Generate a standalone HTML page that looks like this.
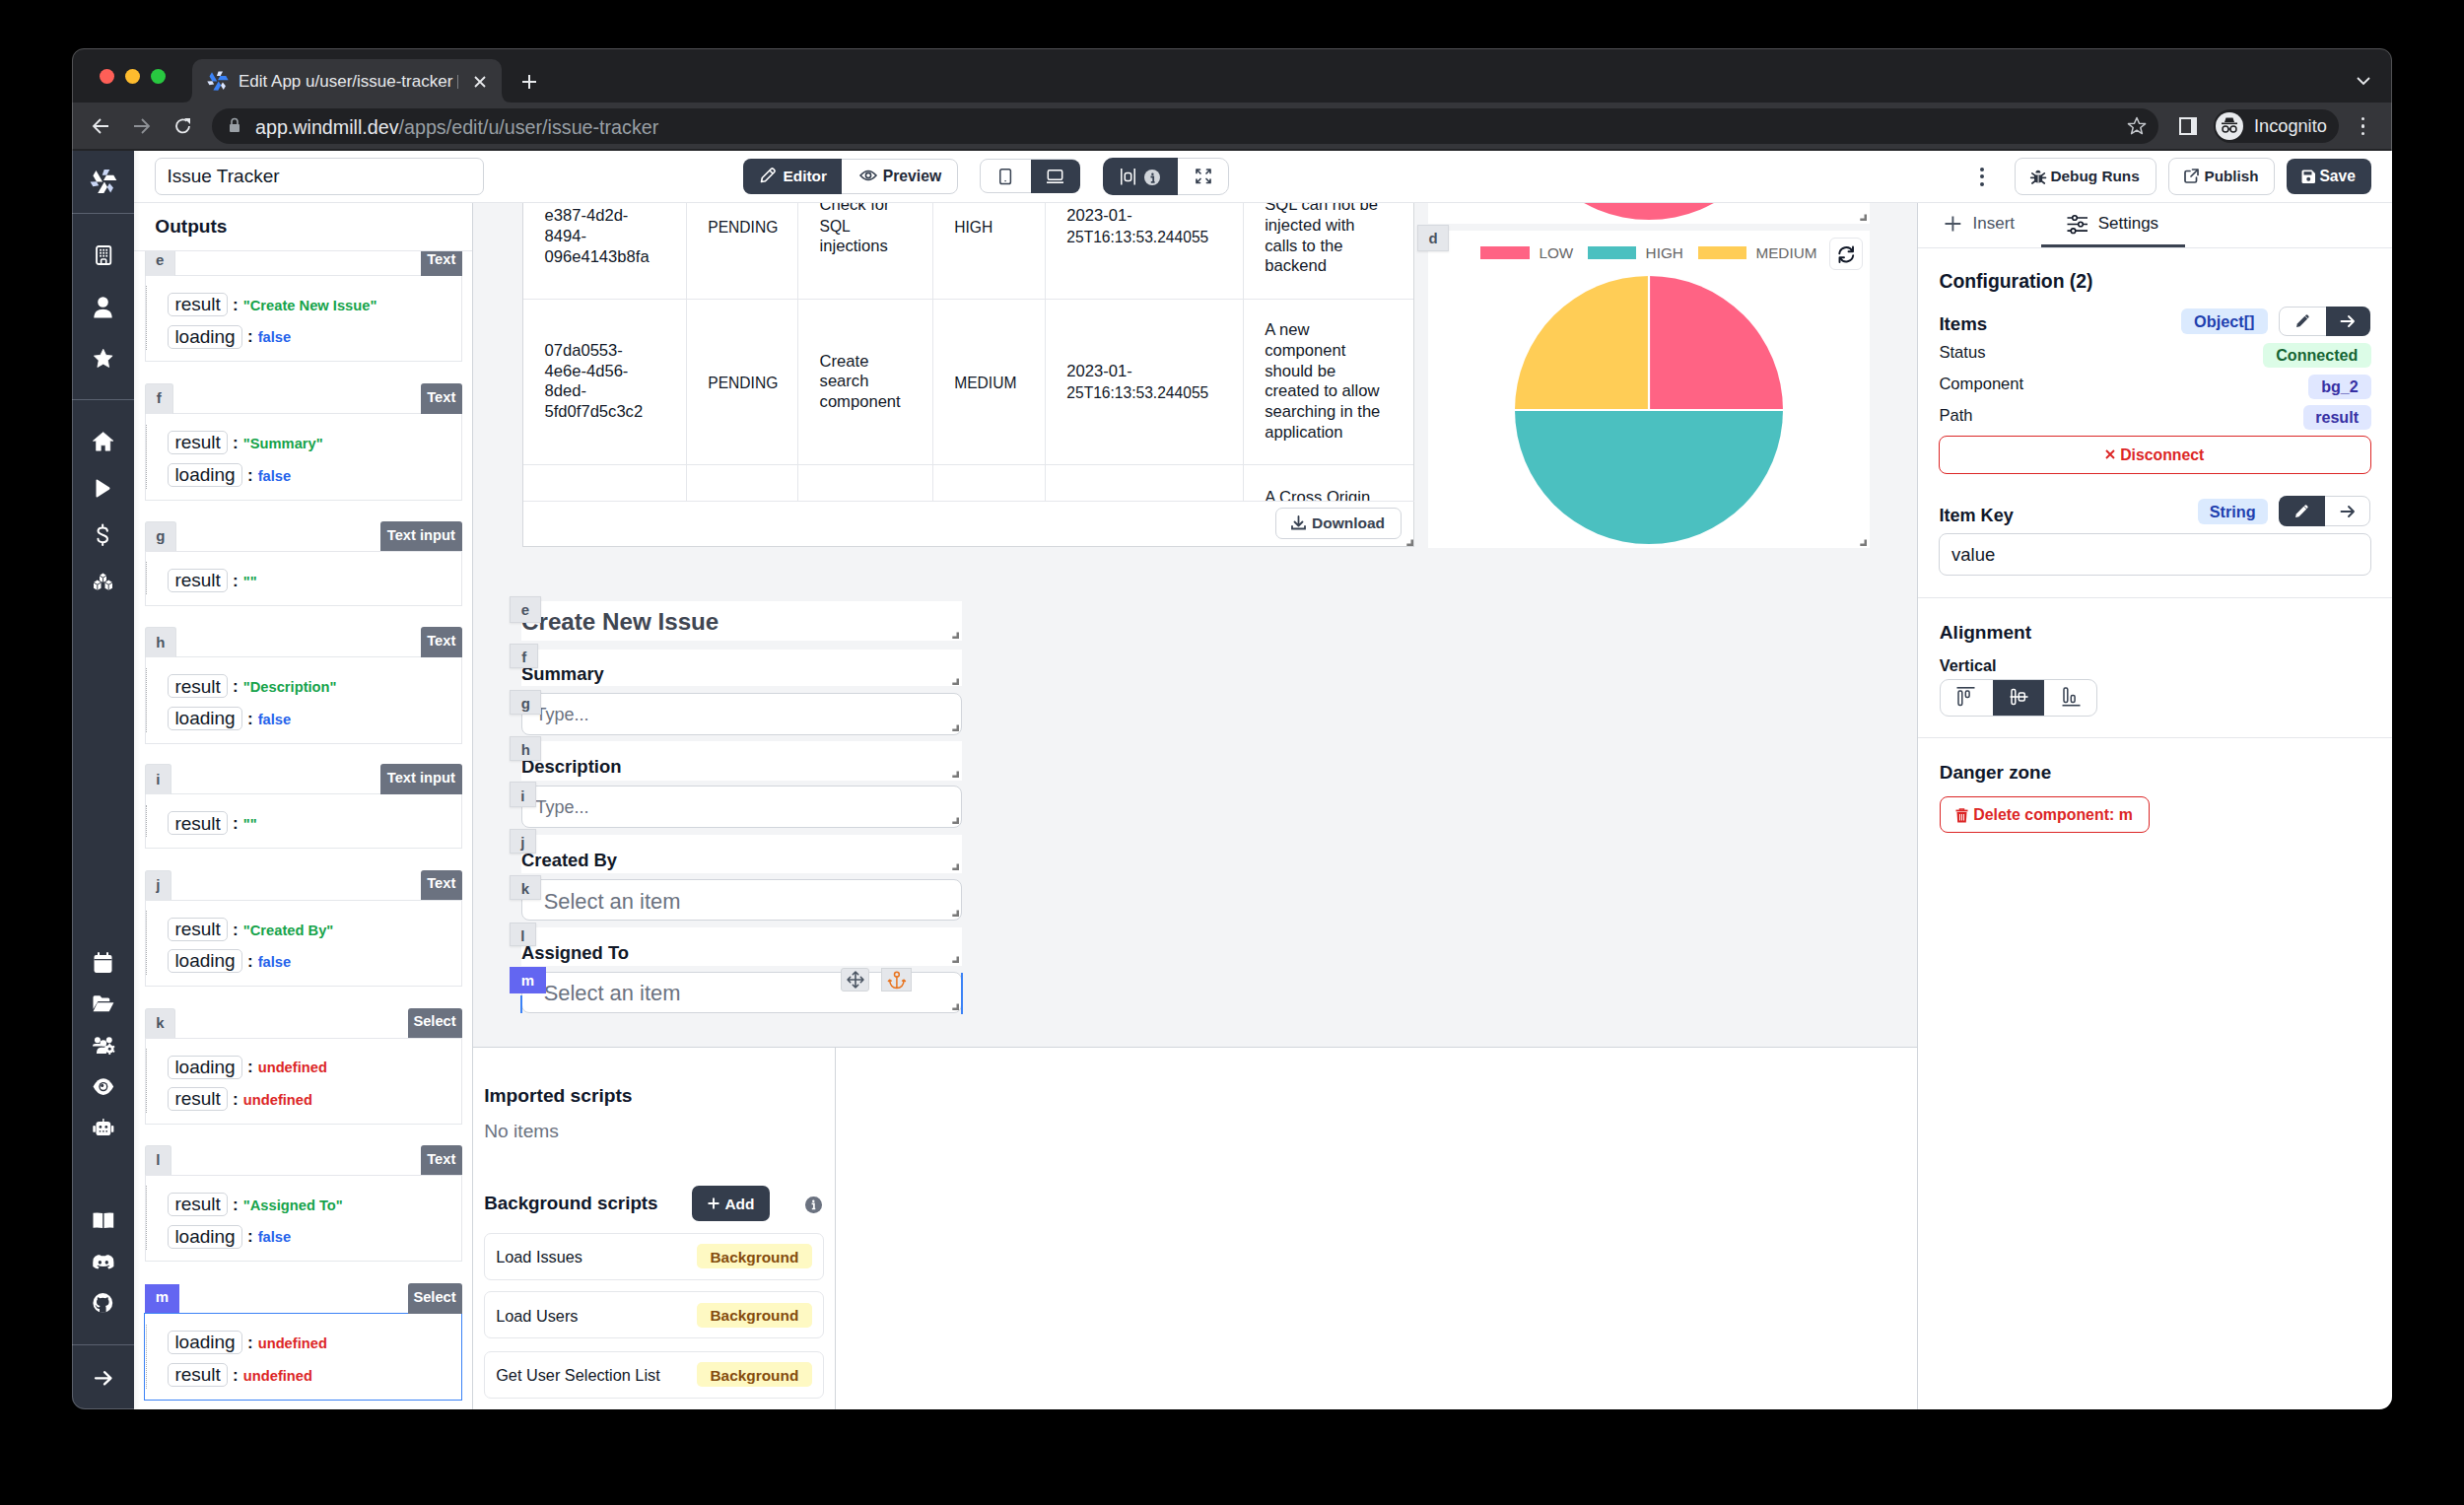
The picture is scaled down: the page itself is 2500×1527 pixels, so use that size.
<!DOCTYPE html><html><head><meta charset="utf-8"><style>
html,body{margin:0;padding:0;}
body{width:2500px;height:1527px;background:#000;position:relative;overflow:hidden;font-family:"Liberation Sans",sans-serif;}
.a{position:absolute;box-sizing:border-box;}
.t{position:absolute;white-space:nowrap;}
svg.a{overflow:visible;}
</style></head><body>
<div class="a" style="left:73.0px;top:49.0px;width:2353.7px;height:1381.0px;background:#202124;border-radius:12px 12px 13px 13px;"></div>
<div class="a" style="left:100.7px;top:69.9px;width:15.6px;height:15.6px;background:#ff5f57;border-radius:50%;"></div>
<div class="a" style="left:126.9px;top:69.9px;width:15.6px;height:15.6px;background:#febc2e;border-radius:50%;"></div>
<div class="a" style="left:152.8px;top:69.9px;width:15.6px;height:15.6px;background:#28c840;border-radius:50%;"></div>
<div class="a" style="left:195.0px;top:60.0px;width:314.0px;height:46.0px;background:#35363a;border-radius:10px 10px 0 0;"></div>
<svg class="a" style="left:185.0px;top:94.0px;" width="10" height="10" viewBox="0 0 10 10"><path d="M0 10 Q10 10 10 0 L10 10 Z" fill="#35363a"/></svg>
<svg class="a" style="left:509.0px;top:94.0px;" width="10" height="10" viewBox="0 0 10 10"><path d="M10 10 Q0 10 0 0 L0 10 Z" fill="#35363a"/></svg>
<svg class="a" style="left:208.9px;top:70.4px;" width="24.0" height="24.0" viewBox="0 0 24.0 24.0"><g transform="translate(12.0,12.0) scale(0.8)"><g transform="rotate(0)"><path d="M0,-1 L13.3,-1 L10.3,-6.3 L3.0,-6.3 Z" fill="#3b82f6"/><path d="M-1.3,-6.3 L3.3,-6.3 L6.3,-11.9 L0.7,-11.9 Z" fill="#dbe6ff"/></g><g transform="rotate(120)"><path d="M0,-1 L13.3,-1 L10.3,-6.3 L3.0,-6.3 Z" fill="#3b82f6"/><path d="M-1.3,-6.3 L3.3,-6.3 L6.3,-11.9 L0.7,-11.9 Z" fill="#dbe6ff"/></g><g transform="rotate(240)"><path d="M0,-1 L13.3,-1 L10.3,-6.3 L3.0,-6.3 Z" fill="#3b82f6"/><path d="M-1.3,-6.3 L3.3,-6.3 L6.3,-11.9 L0.7,-11.9 Z" fill="#dbe6ff"/></g></g></svg>
<div class="t " style="left:242.0px;top:73.11px;font-size:17px;line-height:18.99px;color:#e8eaed;">Edit App u/user/issue-tracker</div>
<div class="a" style="left:463.6px;top:76.3px;width:1.5px;height:14.1px;background:#7d8085;"></div>
<svg class="a" style="left:480.0px;top:76.0px;" width="14" height="14" viewBox="0 0 14 14"><path d="M2 2 L12 12 M12 2 L2 12" stroke="#e8eaed" stroke-width="1.8"/></svg>
<svg class="a" style="left:529.0px;top:75.0px;" width="16" height="16" viewBox="0 0 16 16"><path d="M8 1 V15 M1 8 H15" stroke="#e8eaed" stroke-width="2"/></svg>
<svg class="a" style="left:2391.0px;top:78.0px;" width="14" height="9" viewBox="0 0 14 9"><path d="M1 1 L7 7 L13 1" stroke="#e8eaed" stroke-width="1.8" fill="none"/></svg>
<div class="a" style="left:73.0px;top:104.0px;width:2353.7px;height:49.0px;background:#35363a;"></div>
<svg class="a" style="left:92.0px;top:119.0px;" width="20" height="18" viewBox="0 0 20 18"><path d="M18 9 H3 M10 2 L3 9 L10 16" stroke="#e8eaed" stroke-width="1.8" fill="none"/></svg>
<svg class="a" style="left:134.0px;top:119.0px;" width="20" height="18" viewBox="0 0 20 18"><path d="M2 9 H17 M10 2 L17 9 L10 16" stroke="#8e9196" stroke-width="1.8" fill="none"/></svg>
<svg class="a" style="left:176.0px;top:118.0px;" width="20" height="20" viewBox="0 0 20 20"><path d="M16 10 A6.5 6.5 0 1 1 13.5 4.8" stroke="#e8eaed" stroke-width="1.8" fill="none"/><path d="M11 2 L17 2 L17 8 Z" fill="#e8eaed"/></svg>
<div class="a" style="left:73.0px;top:150.6px;width:2353.7px;height:2.4px;background:#232427;"></div>
<div class="a" style="left:214.8px;top:110.0px;width:1975.6px;height:36.0px;background:#202124;border-radius:18px;"></div>
<svg class="a" style="left:232.0px;top:118.0px;" width="12" height="18" viewBox="0 0 12 18"><path d="M3 8 V5.5 A3 3 0 0 1 9 5.5 V8" stroke="#9aa0a6" stroke-width="1.6" fill="none"/><rect x="1" y="8" width="10" height="8" rx="1" fill="#9aa0a6"/></svg>
<div class="t" style="left:259px;top:117.67px;font-size:19.7px;line-height:22.00px;color:#9aa0a6;"><span style="color:#e8eaed">app.windmill.dev</span>/apps/edit/u/user/issue-tracker</div>
<svg class="a" style="left:2158.0px;top:118.0px;" width="20" height="20" viewBox="0 0 20 20"><path d="M10 1.5 L12.5 7.3 L18.6 7.6 L13.8 11.5 L15.4 17.6 L10 14.2 L4.6 17.6 L6.2 11.5 L1.4 7.6 L7.5 7.3 Z" stroke="#c4c7cc" stroke-width="1.5" fill="none" stroke-linejoin="round"/></svg>
<div class="a" style="left:2211.0px;top:119.0px;width:18.0px;height:18.0px;border:2px solid #e8eaed;border-right-width:6px;"></div>
<div class="a" style="left:2246.0px;top:110.7px;width:126.5px;height:34.5px;background:#202124;border-radius:17px;"></div>
<div class="a" style="left:2248.0px;top:114.0px;width:28.0px;height:28.0px;background:#e8eaed;border-radius:50%;"></div>
<svg class="a" style="left:2248.0px;top:114.0px;" width="28" height="28" viewBox="0 0 28 28"><path d="M9 10 L10.5 5.5 L17.5 5.5 L19 10 Z" fill="#202124"/><rect x="6" y="10.5" width="16" height="1.6" fill="#202124"/><circle cx="10" cy="17" r="3" stroke="#202124" stroke-width="1.5" fill="none"/><circle cx="18" cy="17" r="3" stroke="#202124" stroke-width="1.5" fill="none"/><path d="M13 17 H15" stroke="#202124" stroke-width="1.4"/></svg>
<div class="t " style="left:2287.0px;top:117.73px;font-size:18.2px;line-height:20.33px;color:#e8eaed;">Incognito</div>
<div class="a" style="left:2396.0px;top:118.8px;width:3.4px;height:3.4px;background:#e8eaed;border-radius:50%;"></div>
<div class="a" style="left:2396.0px;top:126.3px;width:3.4px;height:3.4px;background:#e8eaed;border-radius:50%;"></div>
<div class="a" style="left:2396.0px;top:133.8px;width:3.4px;height:3.4px;background:#e8eaed;border-radius:50%;"></div>
<div class="a" style="left:136.0px;top:153.0px;width:2290.7px;height:1277.0px;background:#ffffff;border-radius:0 0 13px 0;"></div>
<div class="a" style="left:73.0px;top:153.0px;width:63.0px;height:1277.0px;background:#2e3440;border-radius:0 0 0 13px;"></div>
<div class="a" style="left:73.0px;top:215.5px;width:63.0px;height:1.0px;background:#5a6170;"></div>
<div class="a" style="left:73.0px;top:404.9px;width:63.0px;height:1.0px;background:#5a6170;"></div>
<div class="a" style="left:73.0px;top:1364.3px;width:63.0px;height:1.0px;background:#5a6170;"></div>
<svg class="a" style="left:89.6px;top:169.2px;" width="30.0" height="30.0" viewBox="0 0 30.0 30.0"><g transform="translate(15.0,15.0) scale(1.0)"><g transform="rotate(0)"><path d="M0,-1 L13.3,-1 L10.3,-6.3 L3.0,-6.3 Z" fill="#ffffff"/><path d="M-1.3,-6.3 L3.3,-6.3 L6.3,-11.9 L0.7,-11.9 Z" fill="#c9d6f5"/></g><g transform="rotate(120)"><path d="M0,-1 L13.3,-1 L10.3,-6.3 L3.0,-6.3 Z" fill="#ffffff"/><path d="M-1.3,-6.3 L3.3,-6.3 L6.3,-11.9 L0.7,-11.9 Z" fill="#c9d6f5"/></g><g transform="rotate(240)"><path d="M0,-1 L13.3,-1 L10.3,-6.3 L3.0,-6.3 Z" fill="#ffffff"/><path d="M-1.3,-6.3 L3.3,-6.3 L6.3,-11.9 L0.7,-11.9 Z" fill="#c9d6f5"/></g></g></svg>
<svg class="a" style="left:96.6px;top:248.8px" width="16.3" height="20.0" viewBox="0 0 16 20" preserveAspectRatio="none"><rect x="1" y="1" width="14" height="18" rx="2" stroke="#fff" stroke-width="1.8" fill="none"/><rect x="4.1" y="3.8" width="1.8" height="1.8" fill="#fff"/><rect x="4.1" y="6.8" width="1.8" height="1.8" fill="#fff"/><rect x="4.1" y="9.8" width="1.8" height="1.8" fill="#fff"/><rect x="7.1" y="3.8" width="1.8" height="1.8" fill="#fff"/><rect x="7.1" y="6.8" width="1.8" height="1.8" fill="#fff"/><rect x="7.1" y="9.8" width="1.8" height="1.8" fill="#fff"/><rect x="10.1" y="3.8" width="1.8" height="1.8" fill="#fff"/><rect x="10.1" y="6.8" width="1.8" height="1.8" fill="#fff"/><rect x="10.1" y="9.8" width="1.8" height="1.8" fill="#fff"/><rect x="5.5" y="14" width="5" height="5" rx="1" stroke="#fff" stroke-width="1.6" fill="none"/></svg>
<svg class="a" style="left:95.0px;top:300.5px" width="19.0" height="21.8" viewBox="0 0 19 22" preserveAspectRatio="none"><circle cx="9.5" cy="5.5" r="5.3" fill="#fff"/><path d="M0.3 21.8 C0.3 15.5 4 12.8 9.5 12.8 C15 12.8 18.7 15.5 18.7 21.8 Z" fill="#fff"/></svg>
<svg class="a" style="left:94.8px;top:354.0px" width="19.5" height="19.0" viewBox="0 0 20 19" preserveAspectRatio="none"><path d="M10 0.3 L12.9 6.3 L19.6 7.1 L14.7 11.7 L16 18.5 L10 15.2 L4 18.5 L5.3 11.7 L0.4 7.1 L7.1 6.3 Z" fill="#fff" stroke="#fff" stroke-width="0.8" stroke-linejoin="round"/></svg>
<svg class="a" style="left:93.6px;top:438.4px" width="21.3" height="19.7" viewBox="0 0 21 20" preserveAspectRatio="none"><path d="M10.5 0.5 L20.7 9.5 L17.5 9.5 L17.5 19.5 L12.8 19.5 L12.8 14 L8.2 14 L8.2 19.5 L3.5 19.5 L3.5 9.5 L0.3 9.5 Z" fill="#fff" stroke="#fff" stroke-width="0.6" stroke-linejoin="round"/></svg>
<svg class="a" style="left:96.4px;top:486.3px" width="16.1" height="19.1" viewBox="0 0 16 19" preserveAspectRatio="none"><path d="M1.5 1.5 Q1.5 0 3 0.8 L15 8.5 Q16 9.5 15 10.5 L3 18.2 Q1.5 19 1.5 17.5 Z" fill="#fff"/></svg>
<svg class="a" style="left:98.4px;top:531.8px" width="12.3" height="21.6" viewBox="0 0 12 22" preserveAspectRatio="none"><path d="M10.6 7 C10.6 4.6 8.6 3.5 6 3.5 C3.4 3.5 1.5 4.8 1.5 7 C1.5 12 10.7 9.8 10.7 15 C10.7 17.3 8.5 18.5 6 18.5 C3.3 18.5 1.4 17.3 1.4 15 M6 0.5 V3.5 M6 18.5 V21.5" stroke="#fff" stroke-width="2" fill="none" stroke-linecap="round"/></svg>
<svg class="a" style="left:94.0px;top:580.3px" width="21.0" height="19.2" viewBox="0 0 21 19" preserveAspectRatio="none"><path d="M7 4 L10.5 1.5 L14 4 L14 9 L10.5 11 L7 9 Z" fill="#fff"/><path d="M1 11 L4.8 8.5 L8.5 11 L8.5 16.5 L4.8 18.5 L1 16.5 Z" fill="#fff"/><path d="M12.5 11 L16.2 8.5 L20 11 L20 16.5 L16.2 18.5 L12.5 16.5 Z" fill="#fff"/><path d="M7 4 L10.5 6 L14 4 M10.5 6 V11 M1 11 L4.8 13 L8.5 11 M4.8 13 V18.5 M12.5 11 L16.2 13 L20 11 M16.2 13 V18.5" stroke="#2e3440" stroke-width="0.9" fill="none"/></svg>
<svg class="a" style="left:95.0px;top:966.0px" width="19.0" height="21.2" viewBox="0 0 19 21" preserveAspectRatio="none"><rect x="0.5" y="3" width="18" height="17.7" rx="2" fill="#fff"/><rect x="0.5" y="7" width="18" height="1.2" fill="#2e3440"/><rect x="4" y="0" width="2" height="5" rx="1" fill="#fff"/><rect x="13" y="0" width="2" height="5" rx="1" fill="#fff"/></svg>
<svg class="a" style="left:93.6px;top:1010.2px" width="21.7" height="16.5" viewBox="0 0 22 16.5" preserveAspectRatio="none"><path d="M0.5 2 Q0.5 0.3 2 0.3 L7.5 0.3 L9.5 2.5 L16 2.5 Q17.5 2.5 17.5 4 L17.5 6 L5.5 6 L0.5 14 Z" fill="#fff"/><path d="M5 7.3 L21.7 7.3 L17 16.2 L0.5 16.2 Z" fill="#fff"/></svg>
<svg class="a" style="left:93.6px;top:1051.7px" width="21.7" height="17.3" viewBox="0 0 22 17.5" preserveAspectRatio="none"><circle cx="5" cy="3.2" r="3" fill="#fff"/><path d="M0 9.5 Q0 7 3 7 L7 7 Q8.5 7 9 8 L9 9.5 Z" fill="#fff"/><circle cx="17" cy="3.2" r="3" fill="#fff"/><circle cx="11" cy="6.5" r="3.3" fill="#fff"/><path d="M4 17.3 Q4 11 8.5 11 L13.5 11 Q14.5 11 15 11.5 L14 17.3 Z" fill="#fff"/><circle cx="17.5" cy="12.5" r="4.3" fill="#fff"/><circle cx="17.5" cy="12.5" r="1.5" fill="#2e3440"/><rect x="16.6" y="6.8" width="1.8" height="2.2" fill="#fff" transform="rotate(0 17.5 12.5)"/><rect x="16.6" y="6.8" width="1.8" height="2.2" fill="#fff" transform="rotate(60 17.5 12.5)"/><rect x="16.6" y="6.8" width="1.8" height="2.2" fill="#fff" transform="rotate(120 17.5 12.5)"/><rect x="16.6" y="6.8" width="1.8" height="2.2" fill="#fff" transform="rotate(180 17.5 12.5)"/><rect x="16.6" y="6.8" width="1.8" height="2.2" fill="#fff" transform="rotate(240 17.5 12.5)"/><rect x="16.6" y="6.8" width="1.8" height="2.2" fill="#fff" transform="rotate(300 17.5 12.5)"/></svg>
<svg class="a" style="left:93.6px;top:1093.6px" width="21.7" height="17.2" viewBox="0 0 22 17" preserveAspectRatio="none"><path d="M0.5 8.5 Q5 0.3 11 0.3 Q17 0.3 21.5 8.5 Q17 16.7 11 16.7 Q5 16.7 0.5 8.5 Z" fill="#fff"/><circle cx="11" cy="8.5" r="4.6" fill="#2e3440"/><circle cx="11" cy="8.5" r="3.2" fill="#fff"/><circle cx="9.8" cy="7.3" r="1.6" fill="#2e3440"/></svg>
<svg class="a" style="left:93.6px;top:1135.4px" width="21.7" height="17.3" viewBox="0 0 22 17.5" preserveAspectRatio="none"><rect x="10.3" y="0" width="1.4" height="3.5" fill="#fff"/><rect x="3.5" y="3" width="15" height="14.3" rx="3" fill="#fff"/><rect x="0.3" y="7" width="2.6" height="7" rx="1.2" fill="#fff"/><rect x="19.1" y="7" width="2.6" height="7" rx="1.2" fill="#fff"/><circle cx="8" cy="8.5" r="1.4" fill="#2e3440"/><circle cx="14" cy="8.5" r="1.4" fill="#2e3440"/><rect x="6.8" y="12.3" width="1.6" height="1.4" fill="#2e3440"/><rect x="10.2" y="12.3" width="1.6" height="1.4" fill="#2e3440"/><rect x="13.6" y="12.3" width="1.6" height="1.4" fill="#2e3440"/></svg>
<svg class="a" style="left:93.6px;top:1230.0px" width="21.7" height="16.0" viewBox="0 0 22 16" preserveAspectRatio="none"><path d="M0.5 0.8 Q5 0 10.3 1 L10.3 16 Q5 15 0.5 15.7 Z" fill="#fff"/><path d="M11.7 1 Q17 0 21.5 0.8 L21.5 15.7 Q17 15 11.7 16 Z" fill="#fff"/></svg>
<svg class="a" style="left:93.6px;top:1272.5px" width="21.7" height="14.6" viewBox="0 0 22 14.6" preserveAspectRatio="none"><path d="M5.5 0.3 Q8 0 8.8 1.2 L13.2 1.2 Q14 0 16.5 0.3 Q20 1.3 21.3 4 Q22 8 21.7 12 Q19 14 16.5 14.5 L15.3 12.6 Q16.8 12 17.5 11.3 L16.8 10.8 Q11 13.4 5.2 10.8 L4.5 11.3 Q5.2 12 6.7 12.6 L5.5 14.5 Q3 14 0.3 12 Q0 8 0.7 4 Q2 1.3 5.5 0.3 Z" fill="#fff"/><ellipse cx="7.5" cy="7.8" rx="1.7" ry="1.9" fill="#2e3440"/><ellipse cx="14.5" cy="7.8" rx="1.7" ry="1.9" fill="#2e3440"/></svg>
<svg class="a" style="left:94.3px;top:1311.7px" width="20.6" height="19.9" viewBox="0 0 20.6 20" preserveAspectRatio="none"><circle cx="10.3" cy="10" r="9.9" fill="#fff"/><path d="M7 19.8 L7 16 Q4.5 16.3 3.5 14 Q3 12.8 2.2 12.4 Q3.5 12.2 4.3 13.5 Q5.3 14.8 7 14.3 Q7.1 13.5 7.6 13.1 Q4 12.5 4 9 Q4 7.6 4.9 6.6 Q4.6 5.5 5 4.3 Q6.2 4.3 7.5 5.3 Q10.3 4.5 13.1 5.3 Q14.4 4.3 15.6 4.3 Q16 5.5 15.7 6.6 Q16.6 7.6 16.6 9 Q16.6 12.5 13 13.1 Q13.6 13.7 13.6 15 L13.6 19.8 Z" fill="#2e3440"/></svg>
<svg class="a" style="left:95.6px;top:1390.8px" width="18.4" height="14.6" viewBox="0 0 18.4 14.6" preserveAspectRatio="none"><path d="M1 7.3 H16.5 M10 1.2 L16.5 7.3 L10 13.4" stroke="#fff" stroke-width="2.3" fill="none" stroke-linecap="round" stroke-linejoin="round"/></svg>
<div class="a" style="left:136.0px;top:204.6px;width:2290.7px;height:1.0px;background:#e5e7eb;"></div>
<div class="a" style="left:157.3px;top:160.0px;width:333.7px;height:38.0px;border:1px solid #d1d5db;border-radius:7px;background:#fff;"></div>
<div class="t " style="left:169.5px;top:168.31px;font-size:19px;line-height:21.22px;color:#111827;">Issue Tracker</div>
<div class="a" style="left:754.4px;top:160.5px;width:217.8px;height:36.4px;border:1px solid #d1d5db;border-radius:8px;background:#fff;"></div>
<div class="a" style="left:754.4px;top:160.5px;width:99.6px;height:36.4px;background:#343d4c;border-radius:8px 0 0 8px;"></div>
<svg class="a" style="left:770.0px;top:169.0px;" width="18" height="18" viewBox="0 0 18 18"><path d="M2.5 15.5 L3.3 11.5 L12.5 2.3 Q13.5 1.5 14.5 2.3 L15.7 3.5 Q16.5 4.5 15.7 5.5 L6.5 14.7 Z M11 4 L14 7" stroke="#fff" stroke-width="1.6" fill="none" stroke-linejoin="round"/></svg>
<div class="t " style="left:794.5px;top:170.26px;font-size:15.4px;line-height:17.20px;color:#fff;font-weight:700;">Editor</div>
<svg class="a" style="left:871.5px;top:172.0px;" width="18" height="12" viewBox="0 0 18 12"><path d="M1 6 Q9 -3 17 6 Q9 15 1 6 Z" stroke="#374151" stroke-width="1.6" fill="none"/><circle cx="9" cy="6" r="2.6" stroke="#374151" stroke-width="1.6" fill="none"/></svg>
<div class="t " style="left:895.8px;top:169.99px;font-size:15.7px;line-height:17.54px;color:#1f2937;font-weight:700;">Preview</div>
<div class="a" style="left:994.2px;top:161.3px;width:101.3px;height:35.1px;border:1px solid #d1d5db;border-radius:8px;background:#fff;"></div>
<div class="a" style="left:1046.0px;top:162.2px;width:49.5px;height:33.4px;background:#343d4c;border-radius:0 8px 8px 0;"></div>
<svg class="a" style="left:1013.7px;top:170.8px;" width="12.2" height="16.4" viewBox="0 0 12.2 16.4"><rect x="0.8" y="0.8" width="10.6" height="14.8" rx="1.8" stroke="#374151" stroke-width="1.5" fill="none"/><rect x="5.4" y="12" width="1.4" height="1.2" fill="#374151"/></svg>
<svg class="a" style="left:1062.3px;top:171.9px;" width="17" height="14.2" viewBox="0 0 17 14.2"><rect x="1.3" y="0.8" width="14.4" height="9.5" rx="1.5" stroke="#fff" stroke-width="1.5" fill="none"/><rect x="0" y="12.4" width="17" height="1.6" fill="#fff"/></svg>
<div class="a" style="left:1119.3px;top:160.3px;width:127.6px;height:37.4px;border:1px solid #d1d5db;border-radius:10px;background:#fff;"></div>
<div class="a" style="left:1119.3px;top:160.3px;width:75.9px;height:37.4px;background:#343d4c;border-radius:10px 0 0 10px;"></div>
<svg class="a" style="left:1136.7px;top:170.6px;" width="15" height="16.6" viewBox="0 0 15 16.6"><path d="M0.8 0 V16.6 M14.2 0 V16.6" stroke="#fff" stroke-width="1.5"/><rect x="4.3" y="4.5" width="6.4" height="8" rx="2" stroke="#fff" stroke-width="1.5" fill="none"/></svg>
<div class="a" style="left:1160.5px;top:171.6px;width:16.8px;height:16.8px;background:#d1d5db;border-radius:50%;"></div>
<svg class="a" style="left:1160.5px;top:171.6px;" width="16.8" height="16.8" viewBox="0 0 16.8 16.8"><circle cx="8.4" cy="4.8" r="1.2" fill="#374151"/><path d="M6.5 7.5 H9.2 V12.5 M6.8 12.8 H10.6" stroke="#374151" stroke-width="1.8" fill="none"/></svg>
<svg class="a" style="left:1213.2px;top:171.4px;" width="16" height="15.5" viewBox="0 0 16 15.5"><path d="M1 1 L5 5 M1 1 H4.5 M1 1 V4.5 M15 1 L11 5 M15 1 H11.5 M15 1 V4.5 M1 14.5 L5 10.5 M1 14.5 H4.5 M1 14.5 V11 M15 14.5 L11 10.5 M15 14.5 H11.5 M15 14.5 V11" stroke="#374151" stroke-width="1.7" fill="none" stroke-linecap="round"/></svg>
<div class="a" style="left:2008.8px;top:169.9px;width:4.0px;height:4.0px;background:#374151;border-radius:50%;"></div>
<div class="a" style="left:2008.8px;top:177.2px;width:4.0px;height:4.0px;background:#374151;border-radius:50%;"></div>
<div class="a" style="left:2008.8px;top:184.5px;width:4.0px;height:4.0px;background:#374151;border-radius:50%;"></div>
<div class="a" style="left:2043.5px;top:160.0px;width:144.7px;height:37.8px;border:1px solid #d1d5db;border-radius:8px;background:#fff;"></div>
<svg class="a" style="left:2059.5px;top:171.5px;" width="16" height="15" viewBox="0 0 16 15"><path d="M5.4 3.4 A2.5 2.6 0 0 1 10.4 3.4 Z" fill="#2b3340"/><path d="M4 5.4 H12.2 V10 Q12.2 13.5 8.1 13.5 Q4 13.5 4 10 Z" fill="#2b3340"/><path d="M8.1 5.6 V13.6" stroke="#fff" stroke-width="0.9"/><path d="M1.9 3.9 L4.8 6.2 M14.3 3.9 L11.4 6.2 M0.7 8.3 H4 M15.5 8.3 H12.2 M1.9 14 L4.8 11.8 M14.3 14 L11.4 11.8" stroke="#2b3340" stroke-width="1.7" stroke-linecap="round"/></svg>
<div class="t " style="left:2080.4px;top:170.21px;font-size:15.35px;line-height:17.15px;color:#1f2937;font-weight:700;">Debug Runs</div>
<div class="a" style="left:2199.7px;top:160.0px;width:108.6px;height:37.8px;border:1px solid #d1d5db;border-radius:8px;background:#fff;"></div>
<svg class="a" style="left:2216.0px;top:171.0px;" width="15" height="15" viewBox="0 0 15 15"><path d="M6 2.5 H2.5 Q1 2.5 1 4 V12.5 Q1 14 2.5 14 H11 Q12.5 14 12.5 12.5 V9 M8.5 1 H14 V6.5 M14 1 L7 8" stroke="#374151" stroke-width="1.7" fill="none" stroke-linecap="round" stroke-linejoin="round"/></svg>
<div class="t " style="left:2236.6px;top:170.34px;font-size:15.2px;line-height:16.98px;color:#1f2937;font-weight:700;">Publish</div>
<div class="a" style="left:2320.0px;top:161.0px;width:85.5px;height:36.0px;background:#343d4c;border-radius:8px;"></div>
<svg class="a" style="left:2335.0px;top:171.5px;" width="14.5" height="14.5" viewBox="0 0 14.5 14.5"><path d="M0.5 2 Q0.5 0.5 2 0.5 L10.5 0.5 L14 4 L14 12.5 Q14 14 12.5 14 L2 14 Q0.5 14 0.5 12.5 Z" fill="#fff"/><rect x="2.5" y="2.2" width="8" height="3.3" fill="#343d4c"/><circle cx="7.25" cy="9.8" r="2" fill="#343d4c"/></svg>
<div class="t " style="left:2353.4px;top:169.98px;font-size:15.6px;line-height:17.43px;color:#fff;font-weight:700;">Save</div>
<div class="a" style="left:479.0px;top:205.6px;width:1.0px;height:1224.4px;background:#d1d5db;"></div>
<div class="t " style="left:157.3px;top:219.01px;font-size:19.1px;line-height:21.33px;color:#0f172a;font-weight:700;">Outputs</div>
<div class="a" style="left:136.0px;top:254.3px;width:343.0px;height:1.0px;background:#e5e7eb;"></div>
<div class="a" style="left:136px;top:255.3px;width:343px;height:1174.7px;overflow:hidden;">
<div class="a" style="left:10.9px;top:23.7px;width:321.7px;height:88.5px;border:1px solid #e5e7eb;background:#fff;"></div>
<div class="a" style="left:10.9px;top:-6.3px;width:30.8px;height:30.5px;background:#e5e7eb;border:1px solid #dfe2e6;border-bottom:none;border-radius:3px 3px 0 0;"></div>
<div class="t " style="left:10.9px;width:30.8px;text-align:center;top:0.92px;font-size:15px;line-height:16.75px;color:#4b5563;font-weight:700;">e</div>
<div class="a" style="left:12.0px;top:35.1px;width:1.2px;height:65.1px;border-left:1.2px dotted #a9abaf;"></div>
<div class="a" style="left:291.0px;top:-6.3px;width:41.6px;height:30.5px;background:#6b7280;border-radius:3px 3px 0 0;"></div>
<div class="t " style="left:286.0px;width:51.6px;text-align:center;top:-0.60px;font-size:14.7px;line-height:16.42px;color:#fff;font-weight:700;">Text</div>
<div class="a" style="left:34.4px;top:41.7px;width:60.4px;height:24.0px;border:1px solid #d1d5db;border-radius:5px;background:#fff;"></div>
<div class="t " style="left:41.4px;top:42.70px;font-size:19px;line-height:21.22px;color:#111827;">result</div>
<div class="t " style="left:100.1px;top:44.51px;font-size:17px;line-height:18.99px;color:#111827;font-weight:700;">:</div>
<div class="t " style="left:110.8px;top:46.60px;font-size:14.7px;line-height:16.42px;color:#16a34a;font-weight:700;">"Create New Issue"</div>
<div class="a" style="left:34.4px;top:74.3px;width:75.3px;height:24.0px;border:1px solid #d1d5db;border-radius:5px;background:#fff;"></div>
<div class="t " style="left:41.4px;top:75.31px;font-size:19px;line-height:21.22px;color:#111827;">loading</div>
<div class="t " style="left:115.0px;top:77.11px;font-size:17px;line-height:18.99px;color:#111827;font-weight:700;">:</div>
<div class="t " style="left:125.7px;top:79.20px;font-size:14.7px;line-height:16.42px;color:#2563eb;font-weight:700;">false</div>
<div class="a" style="left:10.9px;top:163.9px;width:321.7px;height:88.5px;border:1px solid #e5e7eb;background:#fff;"></div>
<div class="a" style="left:10.9px;top:133.9px;width:28.7px;height:30.5px;background:#e5e7eb;border:1px solid #dfe2e6;border-bottom:none;border-radius:3px 3px 0 0;"></div>
<div class="t " style="left:10.9px;width:28.7px;text-align:center;top:141.12px;font-size:15px;line-height:16.75px;color:#4b5563;font-weight:700;">f</div>
<div class="a" style="left:12.0px;top:175.3px;width:1.2px;height:65.1px;border-left:1.2px dotted #a9abaf;"></div>
<div class="a" style="left:291.0px;top:133.9px;width:41.6px;height:30.5px;background:#6b7280;border-radius:3px 3px 0 0;"></div>
<div class="t " style="left:286.0px;width:51.6px;text-align:center;top:139.60px;font-size:14.7px;line-height:16.42px;color:#fff;font-weight:700;">Text</div>
<div class="a" style="left:34.4px;top:181.9px;width:60.4px;height:24.0px;border:1px solid #d1d5db;border-radius:5px;background:#fff;"></div>
<div class="t " style="left:41.4px;top:182.90px;font-size:19px;line-height:21.22px;color:#111827;">result</div>
<div class="t " style="left:100.1px;top:184.71px;font-size:17px;line-height:18.99px;color:#111827;font-weight:700;">:</div>
<div class="t " style="left:110.8px;top:186.80px;font-size:14.7px;line-height:16.42px;color:#16a34a;font-weight:700;">"Summary"</div>
<div class="a" style="left:34.4px;top:214.5px;width:75.3px;height:24.0px;border:1px solid #d1d5db;border-radius:5px;background:#fff;"></div>
<div class="t " style="left:41.4px;top:215.50px;font-size:19px;line-height:21.22px;color:#111827;">loading</div>
<div class="t " style="left:115.0px;top:217.31px;font-size:17px;line-height:18.99px;color:#111827;font-weight:700;">:</div>
<div class="t " style="left:125.7px;top:219.40px;font-size:14.7px;line-height:16.42px;color:#2563eb;font-weight:700;">false</div>
<div class="a" style="left:10.9px;top:303.7px;width:321.7px;height:56.0px;border:1px solid #e5e7eb;background:#fff;"></div>
<div class="a" style="left:10.9px;top:273.7px;width:31.9px;height:30.5px;background:#e5e7eb;border:1px solid #dfe2e6;border-bottom:none;border-radius:3px 3px 0 0;"></div>
<div class="t " style="left:10.9px;width:31.9px;text-align:center;top:280.92px;font-size:15px;line-height:16.75px;color:#4b5563;font-weight:700;">g</div>
<div class="a" style="left:12.0px;top:315.1px;width:1.2px;height:32.6px;border-left:1.2px dotted #a9abaf;"></div>
<div class="a" style="left:250.1px;top:273.7px;width:82.5px;height:30.5px;background:#6b7280;border-radius:3px 3px 0 0;"></div>
<div class="t " style="left:245.1px;width:92.5px;text-align:center;top:279.40px;font-size:14.7px;line-height:16.42px;color:#fff;font-weight:700;">Text input</div>
<div class="a" style="left:34.4px;top:321.7px;width:60.4px;height:24.0px;border:1px solid #d1d5db;border-radius:5px;background:#fff;"></div>
<div class="t " style="left:41.4px;top:322.71px;font-size:19px;line-height:21.22px;color:#111827;">result</div>
<div class="t " style="left:100.1px;top:324.52px;font-size:17px;line-height:18.99px;color:#111827;font-weight:700;">:</div>
<div class="t " style="left:110.8px;top:326.60px;font-size:14.7px;line-height:16.42px;color:#16a34a;font-weight:700;">""</div>
<div class="a" style="left:10.9px;top:411.2px;width:321.7px;height:88.5px;border:1px solid #e5e7eb;background:#fff;"></div>
<div class="a" style="left:10.9px;top:381.2px;width:31.9px;height:30.5px;background:#e5e7eb;border:1px solid #dfe2e6;border-bottom:none;border-radius:3px 3px 0 0;"></div>
<div class="t " style="left:10.9px;width:31.9px;text-align:center;top:388.42px;font-size:15px;line-height:16.75px;color:#4b5563;font-weight:700;">h</div>
<div class="a" style="left:12.0px;top:422.6px;width:1.2px;height:65.1px;border-left:1.2px dotted #a9abaf;"></div>
<div class="a" style="left:291.0px;top:381.2px;width:41.6px;height:30.5px;background:#6b7280;border-radius:3px 3px 0 0;"></div>
<div class="t " style="left:286.0px;width:51.6px;text-align:center;top:386.90px;font-size:14.7px;line-height:16.42px;color:#fff;font-weight:700;">Text</div>
<div class="a" style="left:34.4px;top:429.2px;width:60.4px;height:24.0px;border:1px solid #d1d5db;border-radius:5px;background:#fff;"></div>
<div class="t " style="left:41.4px;top:430.21px;font-size:19px;line-height:21.22px;color:#111827;">result</div>
<div class="t " style="left:100.1px;top:432.02px;font-size:17px;line-height:18.99px;color:#111827;font-weight:700;">:</div>
<div class="t " style="left:110.8px;top:434.10px;font-size:14.7px;line-height:16.42px;color:#16a34a;font-weight:700;">"Description"</div>
<div class="a" style="left:34.4px;top:461.8px;width:75.3px;height:24.0px;border:1px solid #d1d5db;border-radius:5px;background:#fff;"></div>
<div class="t " style="left:41.4px;top:462.81px;font-size:19px;line-height:21.22px;color:#111827;">loading</div>
<div class="t " style="left:115.0px;top:464.62px;font-size:17px;line-height:18.99px;color:#111827;font-weight:700;">:</div>
<div class="t " style="left:125.7px;top:466.70px;font-size:14.7px;line-height:16.42px;color:#2563eb;font-weight:700;">false</div>
<div class="a" style="left:10.9px;top:550.2px;width:321.7px;height:56.0px;border:1px solid #e5e7eb;background:#fff;"></div>
<div class="a" style="left:10.9px;top:520.2px;width:26.9px;height:30.5px;background:#e5e7eb;border:1px solid #dfe2e6;border-bottom:none;border-radius:3px 3px 0 0;"></div>
<div class="t " style="left:10.9px;width:26.9px;text-align:center;top:527.42px;font-size:15px;line-height:16.75px;color:#4b5563;font-weight:700;">i</div>
<div class="a" style="left:12.0px;top:561.6px;width:1.2px;height:32.6px;border-left:1.2px dotted #a9abaf;"></div>
<div class="a" style="left:250.1px;top:520.2px;width:82.5px;height:30.5px;background:#6b7280;border-radius:3px 3px 0 0;"></div>
<div class="t " style="left:245.1px;width:92.5px;text-align:center;top:525.90px;font-size:14.7px;line-height:16.42px;color:#fff;font-weight:700;">Text input</div>
<div class="a" style="left:34.4px;top:568.2px;width:60.4px;height:24.0px;border:1px solid #d1d5db;border-radius:5px;background:#fff;"></div>
<div class="t " style="left:41.4px;top:569.21px;font-size:19px;line-height:21.22px;color:#111827;">result</div>
<div class="t " style="left:100.1px;top:571.02px;font-size:17px;line-height:18.99px;color:#111827;font-weight:700;">:</div>
<div class="t " style="left:110.8px;top:573.10px;font-size:14.7px;line-height:16.42px;color:#16a34a;font-weight:700;">""</div>
<div class="a" style="left:10.9px;top:657.4px;width:321.7px;height:88.5px;border:1px solid #e5e7eb;background:#fff;"></div>
<div class="a" style="left:10.9px;top:627.4px;width:26.8px;height:30.5px;background:#e5e7eb;border:1px solid #dfe2e6;border-bottom:none;border-radius:3px 3px 0 0;"></div>
<div class="t " style="left:10.9px;width:26.8px;text-align:center;top:634.62px;font-size:15px;line-height:16.75px;color:#4b5563;font-weight:700;">j</div>
<div class="a" style="left:12.0px;top:668.8px;width:1.2px;height:65.1px;border-left:1.2px dotted #a9abaf;"></div>
<div class="a" style="left:291.0px;top:627.4px;width:41.6px;height:30.5px;background:#6b7280;border-radius:3px 3px 0 0;"></div>
<div class="t " style="left:286.0px;width:51.6px;text-align:center;top:633.10px;font-size:14.7px;line-height:16.42px;color:#fff;font-weight:700;">Text</div>
<div class="a" style="left:34.4px;top:675.4px;width:60.4px;height:24.0px;border:1px solid #d1d5db;border-radius:5px;background:#fff;"></div>
<div class="t " style="left:41.4px;top:676.41px;font-size:19px;line-height:21.22px;color:#111827;">result</div>
<div class="t " style="left:100.1px;top:678.22px;font-size:17px;line-height:18.99px;color:#111827;font-weight:700;">:</div>
<div class="t " style="left:110.8px;top:680.30px;font-size:14.7px;line-height:16.42px;color:#16a34a;font-weight:700;">"Created By"</div>
<div class="a" style="left:34.4px;top:708.0px;width:75.3px;height:24.0px;border:1px solid #d1d5db;border-radius:5px;background:#fff;"></div>
<div class="t " style="left:41.4px;top:709.00px;font-size:19px;line-height:21.22px;color:#111827;">loading</div>
<div class="t " style="left:115.0px;top:710.82px;font-size:17px;line-height:18.99px;color:#111827;font-weight:700;">:</div>
<div class="t " style="left:125.7px;top:712.90px;font-size:14.7px;line-height:16.42px;color:#2563eb;font-weight:700;">false</div>
<div class="a" style="left:10.9px;top:797.3px;width:321.7px;height:88.5px;border:1px solid #e5e7eb;background:#fff;"></div>
<div class="a" style="left:10.9px;top:767.3px;width:31.3px;height:30.5px;background:#e5e7eb;border:1px solid #dfe2e6;border-bottom:none;border-radius:3px 3px 0 0;"></div>
<div class="t " style="left:10.9px;width:31.3px;text-align:center;top:774.53px;font-size:15px;line-height:16.75px;color:#4b5563;font-weight:700;">k</div>
<div class="a" style="left:12.0px;top:808.7px;width:1.2px;height:65.1px;border-left:1.2px dotted #a9abaf;"></div>
<div class="a" style="left:277.5px;top:767.3px;width:55.1px;height:30.5px;background:#6b7280;border-radius:3px 3px 0 0;"></div>
<div class="t " style="left:272.5px;width:65.1px;text-align:center;top:773.00px;font-size:14.7px;line-height:16.42px;color:#fff;font-weight:700;">Select</div>
<div class="a" style="left:34.4px;top:815.3px;width:75.3px;height:24.0px;border:1px solid #d1d5db;border-radius:5px;background:#fff;"></div>
<div class="t " style="left:41.4px;top:816.30px;font-size:19px;line-height:21.22px;color:#111827;">loading</div>
<div class="t " style="left:115.0px;top:818.12px;font-size:17px;line-height:18.99px;color:#111827;font-weight:700;">:</div>
<div class="t " style="left:125.7px;top:820.20px;font-size:14.7px;line-height:16.42px;color:#dc2626;font-weight:700;">undefined</div>
<div class="a" style="left:34.4px;top:847.9px;width:60.4px;height:24.0px;border:1px solid #d1d5db;border-radius:5px;background:#fff;"></div>
<div class="t " style="left:41.4px;top:848.90px;font-size:19px;line-height:21.22px;color:#111827;">result</div>
<div class="t " style="left:100.1px;top:850.71px;font-size:17px;line-height:18.99px;color:#111827;font-weight:700;">:</div>
<div class="t " style="left:110.8px;top:852.80px;font-size:14.7px;line-height:16.42px;color:#dc2626;font-weight:700;">undefined</div>
<div class="a" style="left:10.9px;top:936.7px;width:321.7px;height:88.5px;border:1px solid #e5e7eb;background:#fff;"></div>
<div class="a" style="left:10.9px;top:906.7px;width:26.8px;height:30.5px;background:#e5e7eb;border:1px solid #dfe2e6;border-bottom:none;border-radius:3px 3px 0 0;"></div>
<div class="t " style="left:10.9px;width:26.8px;text-align:center;top:913.92px;font-size:15px;line-height:16.75px;color:#4b5563;font-weight:700;">l</div>
<div class="a" style="left:12.0px;top:948.1px;width:1.2px;height:65.1px;border-left:1.2px dotted #a9abaf;"></div>
<div class="a" style="left:291.0px;top:906.7px;width:41.6px;height:30.5px;background:#6b7280;border-radius:3px 3px 0 0;"></div>
<div class="t " style="left:286.0px;width:51.6px;text-align:center;top:912.40px;font-size:14.7px;line-height:16.42px;color:#fff;font-weight:700;">Text</div>
<div class="a" style="left:34.4px;top:954.7px;width:60.4px;height:24.0px;border:1px solid #d1d5db;border-radius:5px;background:#fff;"></div>
<div class="t " style="left:41.4px;top:955.71px;font-size:19px;line-height:21.22px;color:#111827;">result</div>
<div class="t " style="left:100.1px;top:957.52px;font-size:17px;line-height:18.99px;color:#111827;font-weight:700;">:</div>
<div class="t " style="left:110.8px;top:959.60px;font-size:14.7px;line-height:16.42px;color:#16a34a;font-weight:700;">"Assigned To"</div>
<div class="a" style="left:34.4px;top:987.3px;width:75.3px;height:24.0px;border:1px solid #d1d5db;border-radius:5px;background:#fff;"></div>
<div class="t " style="left:41.4px;top:988.30px;font-size:19px;line-height:21.22px;color:#111827;">loading</div>
<div class="t " style="left:115.0px;top:990.12px;font-size:17px;line-height:18.99px;color:#111827;font-weight:700;">:</div>
<div class="t " style="left:125.7px;top:992.20px;font-size:14.7px;line-height:16.42px;color:#2563eb;font-weight:700;">false</div>
<div class="a" style="left:10.4px;top:1076.9px;width:322.2px;height:88.5px;border:1.8px solid #3b82f6;background:#fff;"></div>
<div class="a" style="left:10.9px;top:1047.9px;width:35.2px;height:29.0px;background:#6366f1;"></div>
<div class="t " style="left:10.9px;width:35.2px;text-align:center;top:1052.83px;font-size:15px;line-height:16.75px;color:#fff;font-weight:700;">m</div>
<div class="a" style="left:12.0px;top:1088.3px;width:1.2px;height:65.1px;border-left:1.2px dotted #a9abaf;"></div>
<div class="a" style="left:277.5px;top:1046.9px;width:55.1px;height:30.5px;background:#6b7280;border-radius:3px 3px 0 0;"></div>
<div class="t " style="left:272.5px;width:65.1px;text-align:center;top:1052.60px;font-size:14.7px;line-height:16.42px;color:#fff;font-weight:700;">Select</div>
<div class="a" style="left:34.4px;top:1094.9px;width:75.3px;height:24.0px;border:1px solid #d1d5db;border-radius:5px;background:#fff;"></div>
<div class="t " style="left:41.4px;top:1095.91px;font-size:19px;line-height:21.22px;color:#111827;">loading</div>
<div class="t " style="left:115.0px;top:1097.72px;font-size:17px;line-height:18.99px;color:#111827;font-weight:700;">:</div>
<div class="t " style="left:125.7px;top:1099.80px;font-size:14.7px;line-height:16.42px;color:#dc2626;font-weight:700;">undefined</div>
<div class="a" style="left:34.4px;top:1127.5px;width:60.4px;height:24.0px;border:1px solid #d1d5db;border-radius:5px;background:#fff;"></div>
<div class="t " style="left:41.4px;top:1128.51px;font-size:19px;line-height:21.22px;color:#111827;">result</div>
<div class="t " style="left:100.1px;top:1130.32px;font-size:17px;line-height:18.99px;color:#111827;font-weight:700;">:</div>
<div class="t " style="left:110.8px;top:1132.40px;font-size:14.7px;line-height:16.42px;color:#dc2626;font-weight:700;">undefined</div>
</div>
<div class="a" style="left:480.0px;top:205.6px;width:1465.0px;height:856.4px;background:#f3f4f6;"></div>
<div class="a" style="left:480.0px;top:1061.8px;width:1465.0px;height:1.0px;background:#d1d5db;"></div>
<div class="a" style="left:530.3px;top:205.6px;width:904.6px;height:349.0px;background:#fff;border:1px solid #d5d8dc;border-top:none;"></div>
<div class="a" style="left:531px;top:205.6px;width:903px;height:302.9px;overflow:hidden;">
<div class="a" style="left:164.5px;top:0.0px;width:1.0px;height:302.9px;background:#e5e7eb;"></div>
<div class="a" style="left:277.7px;top:0.0px;width:1.0px;height:302.9px;background:#e5e7eb;"></div>
<div class="a" style="left:414.5px;top:0.0px;width:1.0px;height:302.9px;background:#e5e7eb;"></div>
<div class="a" style="left:529.3px;top:0.0px;width:1.0px;height:302.9px;background:#e5e7eb;"></div>
<div class="a" style="left:729.7px;top:0.0px;width:1.0px;height:302.9px;background:#e5e7eb;"></div>
<div class="a" style="left:0.0px;top:97.2px;width:903.0px;height:1.0px;background:#e5e7eb;"></div>
<div class="a" style="left:0.0px;top:265.4px;width:903.0px;height:1.0px;background:#e5e7eb;"></div>
<div class="t " style="left:21.5px;top:4.58px;font-size:16.6px;line-height:18.54px;color:#111827;">e387-4d2d-</div>
<div class="t " style="left:21.5px;top:25.28px;font-size:16.6px;line-height:18.54px;color:#111827;">8494-</div>
<div class="t " style="left:21.5px;top:45.98px;font-size:16.6px;line-height:18.54px;color:#111827;">096e4143b8fa</div>
<div class="t " style="left:21.5px;top:141.28px;font-size:16.6px;line-height:18.54px;color:#111827;">07da0553-</div>
<div class="t " style="left:21.5px;top:161.98px;font-size:16.6px;line-height:18.54px;color:#111827;">4e6e-4d56-</div>
<div class="t " style="left:21.5px;top:182.68px;font-size:16.6px;line-height:18.54px;color:#111827;">8ded-</div>
<div class="t " style="left:21.5px;top:203.38px;font-size:16.6px;line-height:18.54px;color:#111827;">5fd0f7d5c3c2</div>
<div class="t " style="left:187.3px;top:16.88px;font-size:15.6px;line-height:17.43px;color:#111827;">PENDING</div>
<div class="t " style="left:187.3px;top:173.98px;font-size:15.6px;line-height:17.43px;color:#111827;">PENDING</div>
<div class="t " style="left:300.6px;top:-6.42px;font-size:16.6px;line-height:18.54px;color:#111827;">Check for</div>
<div class="t " style="left:300.6px;top:15.18px;font-size:15.6px;line-height:17.43px;color:#111827;">SQL</div>
<div class="t " style="left:300.6px;top:34.98px;font-size:16.6px;line-height:18.54px;color:#111827;">injections</div>
<div class="t " style="left:300.6px;top:152.08px;font-size:16.6px;line-height:18.54px;color:#111827;">Create</div>
<div class="t " style="left:300.6px;top:172.78px;font-size:16.6px;line-height:18.54px;color:#111827;">search</div>
<div class="t " style="left:300.6px;top:193.48px;font-size:16.6px;line-height:18.54px;color:#111827;">component</div>
<div class="t " style="left:437.2px;top:16.88px;font-size:15.6px;line-height:17.43px;color:#111827;">HIGH</div>
<div class="t " style="left:437.2px;top:173.98px;font-size:15.6px;line-height:17.43px;color:#111827;">MEDIUM</div>
<div class="t " style="left:551.3px;top:4.58px;font-size:16.6px;line-height:18.54px;color:#111827;">2023-01-</div>
<div class="t " style="left:551.3px;top:26.18px;font-size:15.6px;line-height:17.43px;color:#111827;">25T16:13:53.244055</div>
<div class="t " style="left:551.3px;top:162.38px;font-size:16.6px;line-height:18.54px;color:#111827;">2023-01-</div>
<div class="t " style="left:551.3px;top:183.98px;font-size:15.6px;line-height:17.43px;color:#111827;">25T16:13:53.244055</div>
<div class="t " style="left:752.2px;top:-6.42px;font-size:16.6px;line-height:18.54px;color:#111827;">SQL can not be</div>
<div class="t " style="left:752.2px;top:14.28px;font-size:16.6px;line-height:18.54px;color:#111827;">injected with</div>
<div class="t " style="left:752.2px;top:34.98px;font-size:16.6px;line-height:18.54px;color:#111827;">calls to the</div>
<div class="t " style="left:752.2px;top:55.68px;font-size:16.6px;line-height:18.54px;color:#111827;">backend</div>
<div class="t " style="left:752.2px;top:120.58px;font-size:16.6px;line-height:18.54px;color:#111827;">A new</div>
<div class="t " style="left:752.2px;top:141.28px;font-size:16.6px;line-height:18.54px;color:#111827;">component</div>
<div class="t " style="left:752.2px;top:161.98px;font-size:16.6px;line-height:18.54px;color:#111827;">should be</div>
<div class="t " style="left:752.2px;top:182.68px;font-size:16.6px;line-height:18.54px;color:#111827;">created to allow</div>
<div class="t " style="left:752.2px;top:203.38px;font-size:16.6px;line-height:18.54px;color:#111827;">searching in the</div>
<div class="t " style="left:752.2px;top:224.08px;font-size:16.6px;line-height:18.54px;color:#111827;">application</div>
<div class="t " style="left:752.2px;top:290.58px;font-size:16.6px;line-height:18.54px;color:#111827;">A Cross Origin</div>
</div>
<div class="a" style="left:531.0px;top:508.0px;width:903.5px;height:1.0px;background:#e5e7eb;"></div>
<div class="a" style="left:1293.5px;top:515.2px;width:128.5px;height:31.6px;border:1px solid #d1d5db;border-radius:7px;background:#fff;"></div>
<svg class="a" style="left:1310.0px;top:523.0px;" width="15" height="15" viewBox="0 0 15 15"><path d="M7.5 1 V10 M3.5 6.5 L7.5 10.5 L11.5 6.5" stroke="#374151" stroke-width="1.8" fill="none" stroke-linecap="round" stroke-linejoin="round"/><path d="M1 11 V13.5 H14 V11" stroke="#374151" stroke-width="1.8" fill="none" stroke-linecap="round"/></svg>
<div class="t " style="left:1331.0px;top:521.97px;font-size:15.5px;line-height:17.31px;color:#374151;font-weight:700;">Download</div>
<svg class="a" style="left:1426.8px;top:546.6px;" width="7" height="7" viewBox="0 0 7 7"><path d="M5.75 0.5 V5.75 H0.3" stroke="#7a7a7a" stroke-width="2.5" fill="none"/></svg>
<div class="a" style="left:1449px;top:205.6px;width:447.5px;height:21px;background:#fff;overflow:hidden;"><div class="a" style="left:87.79999999999995px;top:-255.0px;width:272px;height:272px;border-radius:50%;background:#ff6384;"></div></div>
<svg class="a" style="left:1887.0px;top:217.0px;" width="7" height="7" viewBox="0 0 7 7"><path d="M5.75 0.5 V5.75 H0.3" stroke="#7a7a7a" stroke-width="2.5" fill="none"/></svg>
<div class="a" style="left:1449.0px;top:234.4px;width:447.5px;height:321.4px;background:#fff;"></div>
<div class="a" style="left:1438.4px;top:228.3px;width:31.6px;height:27.0px;background:#e5e7eb;border:1px solid #d6d9de;box-shadow:0 1px 2px rgba(0,0,0,0.08);"></div>
<div class="t " style="left:1439.2px;width:30px;text-align:center;top:233.93px;font-size:15px;line-height:16.75px;color:#4b5563;font-weight:700;">d</div>
<div class="a" style="left:1502.4px;top:250.4px;width:49.6px;height:12.8px;background:#ff6384;"></div>
<div class="t " style="left:1561.4px;top:248.15px;font-size:15.3px;line-height:17.09px;color:#666666;">LOW</div>
<div class="a" style="left:1611.0px;top:250.4px;width:49.2px;height:12.8px;background:#4bc0c0;"></div>
<div class="t " style="left:1669.6px;top:248.15px;font-size:15.3px;line-height:17.09px;color:#666666;">HIGH</div>
<div class="a" style="left:1723.0px;top:250.4px;width:49.0px;height:12.8px;background:#ffcd56;"></div>
<div class="t " style="left:1781.4px;top:248.15px;font-size:15.3px;line-height:17.09px;color:#666666;">MEDIUM</div>
<div class="a" style="left:1856.4px;top:241.3px;width:33.2px;height:33.0px;border:1px solid #e5e7eb;border-radius:6px;background:#fff;"></div>
<svg class="a" style="left:1864.0px;top:249.3px;" width="18.5" height="18.5" viewBox="0 0 18.5 18.5"><path d="M2.3 8.3 A7 7 0 0 1 15.3 5.6 M16.2 10.2 A7 7 0 0 1 3.2 12.9" stroke="#111827" stroke-width="1.9" fill="none" stroke-linecap="round"/><path d="M16 1.5 V6.2 H11.5 M2.5 17 V12.3 H7" stroke="#111827" stroke-width="1.9" fill="none" stroke-linecap="round" stroke-linejoin="round"/></svg>
<svg class="a" style="left:1534.8px;top:277.9px;" width="276" height="276" viewBox="0 0 276 276"><g transform="translate(138,138)"><path d="M0 0 L0 -136 A136 136 0 0 1 136 0 Z" fill="#ff6384"/><path d="M0 0 L136 0 A136 136 0 0 1 -136 0 Z" fill="#4bc0c0"/><path d="M0 0 L-136 0 A136 136 0 0 1 0 -136 Z" fill="#ffcd56"/><path d="M0 -136 V0 M-136 0 H136" stroke="#fff" stroke-width="2.2"/></g></svg>
<svg class="a" style="left:1887.0px;top:546.6px;" width="7" height="7" viewBox="0 0 7 7"><path d="M5.75 0.5 V5.75 H0.3" stroke="#7a7a7a" stroke-width="2.5" fill="none"/></svg>
<div class="a" style="left:529.0px;top:610.3px;width:446.9px;height:39.6px;background:#fff;"></div>
<div class="t " style="left:529.0px;top:616.80px;font-size:24.2px;line-height:27.03px;color:#3f4652;font-weight:700;">Create New Issue</div>
<svg class="a" style="left:966.4px;top:640.9px;" width="7" height="7" viewBox="0 0 7 7"><path d="M5.75 0.5 V5.75 H0.3" stroke="#7a7a7a" stroke-width="2.5" fill="none"/></svg>
<div class="a" style="left:529.0px;top:658.6px;width:446.9px;height:37.9px;background:#fff;"></div>
<div class="t " style="left:529.0px;top:674.35px;font-size:18.4px;line-height:20.55px;color:#111827;font-weight:700;">Summary</div>
<svg class="a" style="left:966.4px;top:687.5px;" width="7" height="7" viewBox="0 0 7 7"><path d="M5.75 0.5 V5.75 H0.3" stroke="#7a7a7a" stroke-width="2.5" fill="none"/></svg>
<div class="a" style="left:529.0px;top:703.2px;width:446.9px;height:43.1px;background:#fff;border:1px solid #d1d5db;border-radius:8px;"></div>
<div class="t " style="left:543.6px;top:714.71px;font-size:18px;line-height:20.11px;color:#6b7280;">Type...</div>
<svg class="a" style="left:966.4px;top:734.8px;" width="7" height="7" viewBox="0 0 7 7"><path d="M5.75 0.5 V5.75 H0.3" stroke="#7a7a7a" stroke-width="2.5" fill="none"/></svg>
<div class="a" style="left:529.0px;top:752.3px;width:446.9px;height:39.7px;background:#fff;"></div>
<div class="t " style="left:529.0px;top:768.10px;font-size:18.45px;line-height:20.61px;color:#111827;font-weight:700;">Description</div>
<svg class="a" style="left:966.4px;top:782.0px;" width="7" height="7" viewBox="0 0 7 7"><path d="M5.75 0.5 V5.75 H0.3" stroke="#7a7a7a" stroke-width="2.5" fill="none"/></svg>
<div class="a" style="left:529.0px;top:797.4px;width:446.9px;height:42.3px;background:#fff;border:1px solid #d1d5db;border-radius:8px;"></div>
<div class="t " style="left:543.6px;top:808.91px;font-size:18px;line-height:20.11px;color:#6b7280;">Type...</div>
<svg class="a" style="left:966.4px;top:829.1px;" width="7" height="7" viewBox="0 0 7 7"><path d="M5.75 0.5 V5.75 H0.3" stroke="#7a7a7a" stroke-width="2.5" fill="none"/></svg>
<div class="a" style="left:529.0px;top:847.2px;width:446.9px;height:38.6px;background:#fff;"></div>
<div class="t " style="left:529.0px;top:863.05px;font-size:18.4px;line-height:20.55px;color:#111827;font-weight:700;">Created By</div>
<svg class="a" style="left:966.4px;top:875.8px;" width="7" height="7" viewBox="0 0 7 7"><path d="M5.75 0.5 V5.75 H0.3" stroke="#7a7a7a" stroke-width="2.5" fill="none"/></svg>
<div class="a" style="left:529.0px;top:891.9px;width:446.9px;height:42.6px;background:#fff;border:1px solid #d1d5db;border-radius:8px;"></div>
<div class="t " style="left:551.7px;top:902.68px;font-size:21.9px;line-height:24.46px;color:#6b7280;">Select an item</div>
<svg class="a" style="left:966.4px;top:922.8px;" width="7" height="7" viewBox="0 0 7 7"><path d="M5.75 0.5 V5.75 H0.3" stroke="#7a7a7a" stroke-width="2.5" fill="none"/></svg>
<div class="a" style="left:529.0px;top:940.6px;width:446.9px;height:39.6px;background:#fff;"></div>
<div class="t " style="left:529.0px;top:957.35px;font-size:18.4px;line-height:20.55px;color:#111827;font-weight:700;">Assigned To</div>
<svg class="a" style="left:966.4px;top:970.1px;" width="7" height="7" viewBox="0 0 7 7"><path d="M5.75 0.5 V5.75 H0.3" stroke="#7a7a7a" stroke-width="2.5" fill="none"/></svg>
<div class="a" style="left:529.0px;top:985.8px;width:446.9px;height:42.7px;background:#fff;border:1px solid #d1d5db;border-radius:8px;"></div>
<div class="t " style="left:551.7px;top:996.38px;font-size:21.9px;line-height:24.46px;color:#6b7280;">Select an item</div>
<div class="a" style="left:974.6px;top:987.0px;width:2.0px;height:41.5px;background:#3b82f6;"></div>
<div class="a" style="left:527.6px;top:1010.0px;width:2.0px;height:18.0px;background:#3b82f6;"></div>
<svg class="a" style="left:966.4px;top:1017.8px;" width="7" height="7" viewBox="0 0 7 7"><path d="M5.75 0.5 V5.75 H0.3" stroke="#7a7a7a" stroke-width="2.5" fill="none"/></svg>
<div class="a" style="left:852.7px;top:981.8px;width:29.8px;height:24.7px;background:#e5e7eb;border:1px solid #d3d6da;border-radius:3px;"></div>
<svg class="a" style="left:858.5px;top:985.3px;" width="18" height="18" viewBox="0 0 18 18"><path d="M9 1 V17 M1 9 H17 M6.3 3.7 L9 1 L11.7 3.7 M6.3 14.3 L9 17 L11.7 14.3 M3.7 6.3 L1 9 L3.7 11.7 M14.3 6.3 L17 9 L14.3 11.7" stroke="#4b5563" stroke-width="1.6" fill="none" stroke-linecap="round" stroke-linejoin="round"/></svg>
<div class="a" style="left:894.3px;top:981.8px;width:30.4px;height:24.7px;background:#e5e7eb;border:1px solid #d3d6da;"></div>
<svg class="a" style="left:900.5px;top:985.0px;" width="18" height="18" viewBox="0 0 18 18"><circle cx="8.9" cy="3.7" r="2.4" stroke="#e8731e" stroke-width="1.5" fill="none"/><path d="M8.9 6.1 V17.5 M1.6 9.6 Q2.5 17.5 8.9 17.5 Q15.3 17.5 16.2 9.6 M0.4 10.5 L1.6 9.2 L3.2 10.2 M14.6 10.2 L16.2 9.2 L17.4 10.5" stroke="#e8731e" stroke-width="1.5" fill="none" stroke-linecap="round" stroke-linejoin="round"/></svg>
<div class="a" style="left:517.2px;top:605.2px;width:31.5px;height:26.4px;background:#e5e7eb;border:1px solid #d6d9de;box-shadow:0 1px 2px rgba(0,0,0,0.08);"></div>
<div class="t " style="left:517.2px;width:31.5px;text-align:center;top:611.42px;font-size:15px;line-height:16.75px;color:#4b5563;font-weight:700;">e</div>
<div class="a" style="left:517.2px;top:652.5px;width:29.1px;height:25.8px;background:#e5e7eb;border:1px solid #d6d9de;box-shadow:0 1px 2px rgba(0,0,0,0.08);"></div>
<div class="t " style="left:517.2px;width:29.09999999999991px;text-align:center;top:658.72px;font-size:15px;line-height:16.75px;color:#4b5563;font-weight:700;">f</div>
<div class="a" style="left:517.2px;top:699.6px;width:32.1px;height:25.4px;background:#e5e7eb;border:1px solid #d6d9de;box-shadow:0 1px 2px rgba(0,0,0,0.08);"></div>
<div class="t " style="left:517.2px;width:32.09999999999991px;text-align:center;top:705.82px;font-size:15px;line-height:16.75px;color:#4b5563;font-weight:700;">g</div>
<div class="a" style="left:517.2px;top:746.7px;width:32.1px;height:25.5px;background:#e5e7eb;border:1px solid #d6d9de;box-shadow:0 1px 2px rgba(0,0,0,0.08);"></div>
<div class="t " style="left:517.2px;width:32.09999999999991px;text-align:center;top:752.92px;font-size:15px;line-height:16.75px;color:#4b5563;font-weight:700;">h</div>
<div class="a" style="left:517.2px;top:793.3px;width:26.4px;height:26.0px;background:#e5e7eb;border:1px solid #d6d9de;box-shadow:0 1px 2px rgba(0,0,0,0.08);"></div>
<div class="t " style="left:517.2px;width:26.399999999999977px;text-align:center;top:799.52px;font-size:15px;line-height:16.75px;color:#4b5563;font-weight:700;">i</div>
<div class="a" style="left:517.2px;top:841.2px;width:26.4px;height:25.3px;background:#e5e7eb;border:1px solid #d6d9de;box-shadow:0 1px 2px rgba(0,0,0,0.08);"></div>
<div class="t " style="left:517.2px;width:26.399999999999977px;text-align:center;top:847.42px;font-size:15px;line-height:16.75px;color:#4b5563;font-weight:700;">j</div>
<div class="a" style="left:517.2px;top:887.8px;width:31.5px;height:25.4px;background:#e5e7eb;border:1px solid #d6d9de;box-shadow:0 1px 2px rgba(0,0,0,0.08);"></div>
<div class="t " style="left:517.2px;width:31.5px;text-align:center;top:894.02px;font-size:15px;line-height:16.75px;color:#4b5563;font-weight:700;">k</div>
<div class="a" style="left:517.2px;top:935.5px;width:26.4px;height:24.4px;background:#e5e7eb;border:1px solid #d6d9de;box-shadow:0 1px 2px rgba(0,0,0,0.08);"></div>
<div class="t " style="left:517.2px;width:26.399999999999977px;text-align:center;top:941.72px;font-size:15px;line-height:16.75px;color:#4b5563;font-weight:700;">l</div>
<div class="a" style="left:517.2px;top:981.2px;width:36.6px;height:27.0px;background:#6366f1;"></div>
<div class="t " style="left:517.2px;width:36.59999999999991px;text-align:center;top:986.92px;font-size:15px;line-height:16.75px;color:#fff;font-weight:700;">m</div>
<div class="a" style="left:480.0px;top:1062.8px;width:1465.0px;height:367.2px;background:#fff;"></div>
<div class="a" style="left:847.0px;top:1062.8px;width:1.0px;height:367.2px;background:#d1d5db;"></div>
<div class="t " style="left:491.2px;top:1101.22px;font-size:19.2px;line-height:21.45px;color:#0f172a;font-weight:700;">Imported scripts</div>
<div class="t " style="left:491.2px;top:1137.32px;font-size:19.2px;line-height:21.45px;color:#6b7280;">No items</div>
<div class="t " style="left:491.2px;top:1209.99px;font-size:18.8px;line-height:21.00px;color:#0f172a;font-weight:700;">Background scripts</div>
<div class="a" style="left:701.8px;top:1203.3px;width:79.7px;height:35.6px;background:#343d4c;border-radius:7px;"></div>
<svg class="a" style="left:717.5px;top:1215.0px;" width="12" height="12" viewBox="0 0 12 12"><path d="M6 0.5 V11.5 M0.5 6 H11.5" stroke="#fff" stroke-width="1.9"/></svg>
<div class="t " style="left:735.4px;top:1212.56px;font-size:15.4px;line-height:17.20px;color:#fff;font-weight:700;">Add</div>
<div class="a" style="left:817.3px;top:1214.2px;width:16.6px;height:16.6px;background:#6b7280;border-radius:50%;"></div>
<svg class="a" style="left:817.3px;top:1214.2px;" width="16.6" height="16.6" viewBox="0 0 16.6 16.6"><circle cx="8.3" cy="4.7" r="1.2" fill="#fff"/><path d="M6.6 7.4 H8.9 V12.3 M6.8 12.5 H10.3" stroke="#fff" stroke-width="1.7" fill="none"/></svg>
<div class="a" style="left:491.2px;top:1250.6px;width:344.4px;height:48.1px;border:1px solid #e5e7eb;border-radius:7px;background:#fff;"></div>
<div class="t " style="left:503.2px;top:1265.85px;font-size:16.3px;line-height:18.21px;color:#111827;">Load Issues</div>
<div class="a" style="left:706.7px;top:1262.3px;width:117.2px;height:25.0px;background:#fef9c3;border-radius:5px;"></div>
<div class="t " style="left:720.5px;top:1266.66px;font-size:15.4px;line-height:17.20px;color:#854d0e;font-weight:700;">Background</div>
<div class="a" style="left:491.2px;top:1310.4px;width:344.4px;height:48.1px;border:1px solid #e5e7eb;border-radius:7px;background:#fff;"></div>
<div class="t " style="left:503.2px;top:1325.65px;font-size:16.3px;line-height:18.21px;color:#111827;">Load Users</div>
<div class="a" style="left:706.7px;top:1322.1px;width:117.2px;height:25.0px;background:#fef9c3;border-radius:5px;"></div>
<div class="t " style="left:720.5px;top:1326.46px;font-size:15.4px;line-height:17.20px;color:#854d0e;font-weight:700;">Background</div>
<div class="a" style="left:491.2px;top:1370.7px;width:344.4px;height:48.1px;border:1px solid #e5e7eb;border-radius:7px;background:#fff;"></div>
<div class="t " style="left:503.2px;top:1385.95px;font-size:16.3px;line-height:18.21px;color:#111827;">Get User Selection List</div>
<div class="a" style="left:706.7px;top:1382.4px;width:117.2px;height:25.0px;background:#fef9c3;border-radius:5px;"></div>
<div class="t " style="left:720.5px;top:1386.76px;font-size:15.4px;line-height:17.20px;color:#854d0e;font-weight:700;">Background</div>
<div class="a" style="left:1945.0px;top:205.6px;width:1.0px;height:1224.4px;background:#d1d5db;"></div>
<div class="a" style="left:1946.0px;top:250.8px;width:480.7px;height:1.0px;background:#e5e7eb;"></div>
<svg class="a" style="left:1973.1px;top:219.4px;" width="16.8" height="16" viewBox="0 0 16.8 16"><path d="M8.4 0.5 V15.5 M0.5 8 H16.3" stroke="#4b5563" stroke-width="1.9"/></svg>
<div class="t " style="left:2001.5px;top:217.42px;font-size:17px;line-height:18.99px;color:#4b5563;">Insert</div>
<svg class="a" style="left:2097.0px;top:217.8px;" width="21" height="19.1" viewBox="0 0 21 19.1"><path d="M0.5 3 H21 M0.5 9.5 H21 M0.5 16.2 H21" stroke="#111827" stroke-width="1.7"/><circle cx="8" cy="3" r="2.3" fill="#fff" stroke="#111827" stroke-width="1.6"/><circle cx="14" cy="9.5" r="2.3" fill="#fff" stroke="#111827" stroke-width="1.6"/><circle cx="6.5" cy="16.2" r="2.3" fill="#fff" stroke="#111827" stroke-width="1.6"/></svg>
<div class="t " style="left:2128.7px;top:217.42px;font-size:17px;line-height:18.99px;color:#111827;">Settings</div>
<div class="a" style="left:2070.9px;top:248.2px;width:146.1px;height:3.0px;background:#3a4250;"></div>
<div class="t " style="left:1967.4px;top:275.44px;font-size:19.4px;line-height:21.67px;color:#0f172a;font-weight:700;">Configuration (2)</div>
<div class="t " style="left:1967.4px;top:319.08px;font-size:18.7px;line-height:20.89px;color:#0f172a;font-weight:700;">Items</div>
<div class="a" style="left:2212.6px;top:313.3px;width:88.4px;height:25.5px;background:#dbeafe;border-radius:6px;"></div>
<div class="t " style="left:2211.8px;width:90px;text-align:center;top:317.29px;font-size:16.25px;line-height:18.15px;color:#1e40af;font-weight:700;">Object[]</div>
<div class="a" style="left:2312.0px;top:311.0px;width:92.7px;height:30.2px;border:1px solid #d1d5db;border-radius:8px;background:#fff;"></div>
<div class="a" style="left:2359.8px;top:311.0px;width:44.9px;height:30.2px;background:#343d4c;border-radius:0 8px 8px 0;"></div>
<svg class="a" style="left:2327.9px;top:318.1px;" width="16" height="16" viewBox="0 0 16 16"><path d="M2 14 L2.8 10.5 L10.5 2.8 L13.2 5.5 L5.5 13.2 Z" fill="#374151"/><path d="M11.5 1.8 Q12.5 0.8 13.5 1.8 L14.2 2.5 Q15.2 3.5 14.2 4.5 L13.6 5.1 L10.9 2.4 Z" fill="#374151"/></svg>
<svg class="a" style="left:2374.2px;top:318.1px;" width="16" height="16" viewBox="0 0 16 16"><path d="M1.5 8 H14 M9 3 L14 8 L9 13" stroke="#fff" stroke-width="1.9" fill="none" stroke-linecap="round" stroke-linejoin="round"/></svg>
<div class="t " style="left:1967.4px;top:349.48px;font-size:16.6px;line-height:18.54px;color:#111827;">Status</div>
<div class="a" style="left:2295.8px;top:348.1px;width:110.0px;height:25.2px;background:#dcfce7;border-radius:6px;"></div>
<div class="t " style="left:2295.8px;width:110px;text-align:center;top:351.43px;font-size:16.1px;line-height:17.98px;color:#166534;font-weight:700;">Connected</div>
<div class="t " style="left:1967.4px;top:381.28px;font-size:16.6px;line-height:18.54px;color:#111827;">Component</div>
<div class="a" style="left:2342.3px;top:379.5px;width:63.5px;height:25.2px;background:#e0e7ff;border-radius:6px;"></div>
<div class="t " style="left:2342.5px;width:63px;text-align:center;top:383.13px;font-size:16.1px;line-height:17.98px;color:#3730a3;font-weight:700;">bg_2</div>
<div class="t " style="left:1967.4px;top:412.68px;font-size:16.6px;line-height:18.54px;color:#111827;">Path</div>
<div class="a" style="left:2336.5px;top:411.0px;width:69.3px;height:25.0px;background:#e0e7ff;border-radius:6px;"></div>
<div class="t " style="left:2336.6px;width:69px;text-align:center;top:414.43px;font-size:16.1px;line-height:17.98px;color:#3730a3;font-weight:700;">result</div>
<div class="a" style="left:1967.4px;top:442.0px;width:438.4px;height:38.7px;border:1.6px solid #dc2626;border-radius:8px;background:#fff;"></div>
<svg class="a" style="left:2136.0px;top:456.0px;" width="10" height="10" viewBox="0 0 10 10"><path d="M1 1 L9 9 M9 1 L1 9" stroke="#dc2626" stroke-width="1.9"/></svg>
<div class="t " style="left:2151.2px;top:452.70px;font-size:15.8px;line-height:17.65px;color:#dc2626;font-weight:700;">Disconnect</div>
<div class="t " style="left:1967.4px;top:512.62px;font-size:18.1px;line-height:20.22px;color:#0f172a;font-weight:700;">Item Key</div>
<div class="a" style="left:2229.5px;top:506.3px;width:71.5px;height:25.6px;background:#dbeafe;border-radius:6px;"></div>
<div class="t " style="left:2229.2px;width:72px;text-align:center;top:510.29px;font-size:16.25px;line-height:18.15px;color:#1e40af;font-weight:700;">String</div>
<div class="a" style="left:2312.0px;top:503.0px;width:92.7px;height:31.2px;border:1px solid #d1d5db;border-radius:8px;background:#fff;"></div>
<div class="a" style="left:2312.0px;top:503.0px;width:46.6px;height:31.2px;background:#343d4c;border-radius:8px 0 0 8px;"></div>
<svg class="a" style="left:2327.3px;top:510.6px;" width="16" height="16" viewBox="0 0 16 16"><path d="M2 14 L2.8 10.5 L10.5 2.8 L13.2 5.5 L5.5 13.2 Z" fill="#fff"/><path d="M11.5 1.8 Q12.5 0.8 13.5 1.8 L14.2 2.5 Q15.2 3.5 14.2 4.5 L13.6 5.1 L10.9 2.4 Z" fill="#fff"/></svg>
<svg class="a" style="left:2373.6px;top:510.6px;" width="16" height="16" viewBox="0 0 16 16"><path d="M1.5 8 H14 M9 3 L14 8 L9 13" stroke="#374151" stroke-width="1.9" fill="none" stroke-linecap="round" stroke-linejoin="round"/></svg>
<div class="a" style="left:1967.4px;top:541.2px;width:438.4px;height:43.2px;border:1px solid #d1d5db;border-radius:8px;background:#fff;"></div>
<div class="t " style="left:1980.0px;top:553.06px;font-size:18.5px;line-height:20.66px;color:#111827;">value</div>
<div class="a" style="left:1946.0px;top:605.8px;width:480.7px;height:1.0px;background:#e5e7eb;"></div>
<div class="t " style="left:1967.8px;top:630.71px;font-size:19.1px;line-height:21.33px;color:#0f172a;font-weight:700;">Alignment</div>
<div class="t " style="left:1967.8px;top:665.84px;font-size:16.2px;line-height:18.10px;color:#111827;font-weight:700;">Vertical</div>
<div class="a" style="left:1967.8px;top:688.8px;width:160.7px;height:38.0px;border:1px solid #d1d5db;border-radius:9px;background:#fff;"></div>
<div class="a" style="left:2022.1px;top:689.8px;width:52.1px;height:36.0px;background:#343d4c;"></div>
<svg class="a" style="left:1984.5px;top:697.0px;" width="19" height="19.5" viewBox="0 0 19 19.5"><path d="M0.5 0.8 H18.5" stroke="#374151" stroke-width="1.6"/><rect x="2" y="4" width="3.8" height="14.5" rx="1.5" stroke="#374151" stroke-width="1.5" fill="none"/><rect x="9.3" y="4" width="3.8" height="6.5" rx="1.5" stroke="#374151" stroke-width="1.5" fill="none"/></svg>
<svg class="a" style="left:2038.5px;top:697.0px;" width="19" height="19.5" viewBox="0 0 19 19.5"><path d="M0.5 10 H18.5" stroke="#fff" stroke-width="1.6"/><rect x="2" y="2.5" width="3.8" height="15" rx="1.5" stroke="#fff" stroke-width="1.5" fill="none"/><rect x="9.3" y="6" width="6" height="8" rx="1.5" stroke="#fff" stroke-width="1.5" fill="none"/></svg>
<svg class="a" style="left:2092.0px;top:697.0px;" width="19" height="19.5" viewBox="0 0 19 19.5"><path d="M0.5 18.7 H18.5" stroke="#374151" stroke-width="1.6"/><rect x="2" y="1" width="3.8" height="14.5" rx="1.5" stroke="#374151" stroke-width="1.5" fill="none"/><rect x="9.3" y="8.5" width="3.8" height="7" rx="1.5" stroke="#374151" stroke-width="1.5" fill="none"/></svg>
<div class="a" style="left:1946.0px;top:748.2px;width:480.7px;height:1.0px;background:#e5e7eb;"></div>
<div class="t " style="left:1967.8px;top:772.70px;font-size:18.9px;line-height:21.11px;color:#0f172a;font-weight:700;">Danger zone</div>
<div class="a" style="left:1967.8px;top:807.7px;width:213.4px;height:37.8px;border:1.6px solid #dc2626;border-radius:8px;background:#fff;"></div>
<svg class="a" style="left:1983.5px;top:819.5px;" width="13" height="15" viewBox="0 0 13 15"><path d="M0.5 2.5 H12.5" stroke="#dc2626" stroke-width="1.8"/><path d="M4.5 2.3 V1 H8.5 V2.3" stroke="#dc2626" stroke-width="1.5" fill="none"/><path d="M1.5 4 H11.5 L10.8 14.5 H2.2 Z" fill="#dc2626"/><path d="M4.5 6 V12.5 M6.5 6 V12.5 M8.5 6 V12.5" stroke="#fff" stroke-width="0.9"/></svg>
<div class="t " style="left:2002.2px;top:817.61px;font-size:15.9px;line-height:17.76px;color:#dc2626;font-weight:700;">Delete component: m</div>
<div class="a" style="left:136.0px;top:153.0px;width:6.0px;height:1277.0px;background:linear-gradient(to right, rgba(0,0,0,0.045), rgba(0,0,0,0));"></div>
<div class="a" style="left:73.0px;top:49.0px;width:2353.7px;height:1381.0px;border:1.3px solid rgba(255,255,255,0.22);border-radius:12px 12px 13px 13px;pointer-events:none;"></div>
</body></html>
